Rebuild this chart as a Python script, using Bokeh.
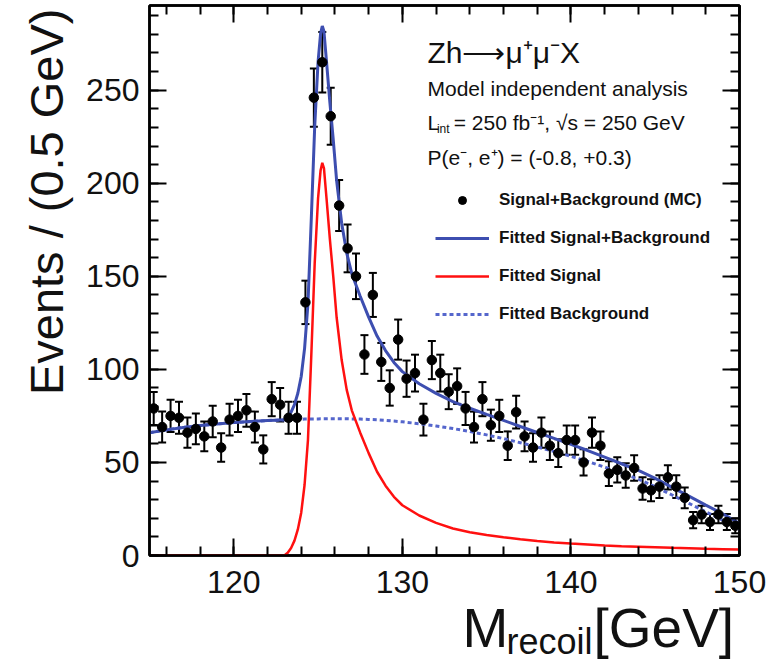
import numpy as np
from bokeh.plotting import figure
from bokeh.layouts import row, column
from bokeh.models import (ColumnDataSource, Whisker, TeeHead, Label, Legend, LegendItem,
                          SingleIntervalTicker, LinearAxis, Range1d)
from bokeh.embed import file_html
from bokeh.resources import INLINE

# ---------------- data ----------------
bin_lo = 115.0
bin_w = 0.5
counts = [79, 69, 75, 74, 66, 68, 64, 72, 58, 73,
          75, 78, 69, 57, 84, 81, 74, 74, 136, 246,
          265, 236, 188, 165, 150, 108, 140, 104, 90, 116,
          95, 98, 73, 105, 98, 88, 91, 79, 69, 84,
          70, 75, 59, 77, 64, 58, 66, 59, 55, 62,
          62, 50, 66, 59, 44, 46, 43, 47, 36, 35,
          37, 42, 37, 31, 19, 22, 18, 22, 18, 16]

curve_x = [115, 116, 117, 118, 119, 120, 121, 122, 122.5, 123.0,
           123.2, 123.4, 123.6, 123.8, 124.0, 124.2, 124.4, 124.6, 124.8, 125.0,
           125.15, 125.25, 125.35, 125.5, 125.7, 125.9, 126.1, 126.4, 126.7, 127.0,
           127.5, 128.0, 128.5, 129.0, 129.5, 130, 131, 132, 133, 134,
           135, 136, 137, 138, 139, 140, 141, 142, 143, 144,
           145, 146, 147, 148, 149, 150]
bkg_fit = [66, 67.5, 68.8, 69.8, 70.7, 71.4, 72, 72.5, 72.7, 72.9,
           73, 73, 73.1, 73.2, 73.2, 73.3, 73.3, 73.4, 73.4, 73.4,
           73.5, 73.5, 73.5, 73.5, 73.5, 73.5, 73.5, 73.5, 73.5, 73.4,
           73.3, 73.1, 72.9, 72.6, 72.2, 71.8, 70.8, 69.6, 68.2, 66.6,
           64.8, 62.8, 60.6, 58.3, 55.9, 53.3, 50.5, 47.5, 44.3, 41,
           37, 32.5, 28, 23.5, 19, 14]
sig_fit = [0, 0, 0, 0, 0, 0, 0, 0, 0, 0,
           1.5, 4, 8, 14, 23, 38, 62, 108, 157, 192,
           207, 211, 208, 192, 170, 150, 128, 105, 89, 78,
           66, 55, 45, 37.5, 31.5, 27, 21.5, 17.5, 14.5, 12.5,
           11, 9.8, 8.7, 7.8, 7, 6.4, 5.9, 5.4, 5.0, 4.7,
           4.4, 4.1, 3.9, 3.6, 3.4, 3.2]

x_tick_step = 10
y_tick_step = 50

# ---------------- derived ----------------
counts_a = np.array(counts, dtype=float)
centers = bin_lo + bin_w * (np.arange(len(counts)) + 0.5)
err = np.sqrt(counts_a)
pts_src = ColumnDataSource(dict(x=centers, y=counts_a, lo=counts_a - err, hi=counts_a + err))
tot_fit = np.array(bkg_fit) + np.array(sig_fit)
fit_src = ColumnDataSource(dict(x=curve_x, bkg=bkg_fit, sig=sig_fit, tot=tot_fit))

FONT = "Liberation Sans"
TXT = "#111111"

TOT_W = 766
TOT_H = 659
LEFT_W = 80
BOT_H = 52

p = figure(width=TOT_W - LEFT_W, height=TOT_H - BOT_H, x_range=Range1d(115, 150),
           y_range=Range1d(0, 295.5), title=None,
           output_backend="svg", toolbar_location=None,
           min_border_left=69, min_border_right=27, min_border_top=5, min_border_bottom=52)
p.xgrid.visible = False
p.ygrid.visible = False
p.outline_line_color = "black"
p.outline_line_width = 2.5
p.background_fill_color = "white"
p.border_fill_color = "white"


def style_axis(ax, show_labels):
    ax.major_tick_in = 17
    ax.major_tick_out = 0
    ax.minor_tick_in = 9
    ax.minor_tick_out = 0
    ax.major_tick_line_width = 2
    ax.minor_tick_line_width = 2
    ax.axis_line_width = 2.5
    ax.major_tick_line_color = "black"
    ax.minor_tick_line_color = "black"
    ax.axis_line_color = "black"
    ax.major_label_text_font = FONT
    if show_labels:
        ax.major_label_text_font_size = "32px"
        ax.major_label_text_color = TXT
    else:
        ax.major_label_text_font_size = "2px"
        ax.major_label_text_color = None
        ax.major_label_standoff = 0


p.xaxis.ticker = SingleIntervalTicker(interval=x_tick_step, num_minor_ticks=5)
p.yaxis.ticker = SingleIntervalTicker(interval=y_tick_step, num_minor_ticks=5)
style_axis(p.xaxis[0], True)
style_axis(p.yaxis[0], True)
p.xaxis.major_label_standoff = 15
p.yaxis.major_label_standoff = 10

top_ax = LinearAxis(ticker=SingleIntervalTicker(interval=x_tick_step, num_minor_ticks=5))
right_ax = LinearAxis(ticker=SingleIntervalTicker(interval=y_tick_step, num_minor_ticks=5))
style_axis(top_ax, False)
style_axis(right_ax, False)
p.add_layout(top_ax, "above")
p.add_layout(right_ax, "right")

# ---------------- glyphs ----------------
BLUE = "#3d4eb0"
RED = "#ff1010"
DASH = "#5566cc"

bkg_r = p.line("x", "bkg", source=fit_src, line_color=DASH, line_width=3, line_dash="4 3")
sig_r = p.line("x", "sig", source=fit_src, line_color=RED, line_width=2.5)
tot_r = p.line("x", "tot", source=fit_src, line_color=BLUE, line_width=3)

wh = Whisker(source=pts_src, base="x", lower="lo", upper="hi", line_color="black", line_width=2,
             upper_head=TeeHead(size=8, line_width=2, line_color="black"),
             lower_head=TeeHead(size=8, line_width=2, line_color="black"))
p.add_layout(wh)
pts_r = p.scatter("x", "y", source=pts_src, size=9.5, color="black")

legend = Legend(items=[LegendItem(label="Signal+Background (MC)", renderers=[pts_r]),
                       LegendItem(label="Fitted Signal+Background", renderers=[tot_r]),
                       LegendItem(label="Fitted Signal", renderers=[sig_r]),
                       LegendItem(label="Fitted Background", renderers=[bkg_r])],
                location=(286, 231), glyph_width=54, glyph_height=20, spacing=18,
                label_standoff=10, padding=0, margin=0, border_line_color=None,
                background_fill_alpha=0, label_text_font=FONT, label_text_font_style="bold",
                label_text_font_size="17px", label_text_color=TXT)
p.add_layout(legend)


# ---------------- texts ----------------
def lab(fig, x, y, t, size, **kw):
    fig.add_layout(Label(x=x, y=y, text=t, text_font=FONT, text_font_size=size,
                         text_color=TXT, text_baseline="middle", **kw))


lab(p, 131.49, 270.0, "Zh\u27f6\u03bc\u207a\u03bc\u207bX", "30px")
lab(p, 131.49, 250.9, "Model independent analysis", "21px")
lab(p, 131.49, 232.7, "L", "21px")
lab(p, 132.05, 229.2, "int", "12px")
lab(p, 133.05, 232.7, "= 250 fb\u207b\u00b9, \u221as = 250 GeV", "21px")
lab(p, 131.49, 213.9, "P(e\u207b, e\u207a) = (-0.8, +0.3)", "21px")


def blank(w, h, xr):
    f = figure(width=w, height=h, x_range=xr, y_range=Range1d(0, h), title=None,
               x_axis_type=None, y_axis_type=None, output_backend="svg", toolbar_location=None,
               min_border_left=0, min_border_right=0, min_border_top=0, min_border_bottom=0)
    f.xgrid.visible = False
    f.ygrid.visible = False
    f.outline_line_color = None
    f.background_fill_color = "white"
    f.border_fill_color = "white"
    return f


# y-axis title (left strip), pixel coordinates inside the strip
left_fig = blank(LEFT_W, TOT_H, Range1d(0, LEFT_W))
lab(left_fig, 46, TOT_H - 8, "Events / (0.5 GeV)", "47px", text_align="right", angle=np.pi / 2)

# x-axis title (bottom strip); its frame is aligned with the main frame, so x is in GeV
bot_fig = blank(TOT_W - LEFT_W, BOT_H, Range1d(115, 150))
lab(bot_fig, 133.57, 32, "M", "55px")
lab(bot_fig, 136.18, 18, "recoil", "36px")
lab(bot_fig, 141.34, 32, "[GeV]", "55px")

layout = row(left_fig, column(p, bot_fig))
open("out.html", "w").write(file_html(layout, INLINE))
